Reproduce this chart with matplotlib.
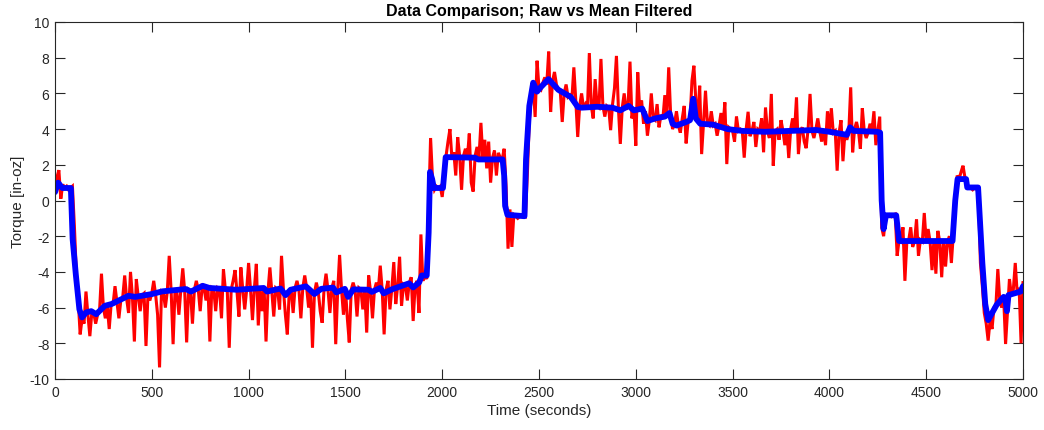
import numpy as np
import matplotlib
matplotlib.use("Agg")
import matplotlib.pyplot as plt

plt.rcParams['font.family'] = ['Liberation Sans', 'DejaVu Sans']

# ---- data ----
raw_step = 10
raw_values = [
    0.5, 1.3, 1.7, 0.1, 0.9, 0.7, 0.8, 0.6, 0.7, 0.8,
    -1.4, -4.0, -5.6, -7.5, -6.6, -6.9, -5.1, -6.4, -7.6, -6.3,
    -6.3, -6.9, -6.4, -6.2, -4.1, -6.0, -6.6, -5.9, -7.2, -5.8,
    -5.8, -4.8, -5.7, -6.6, -5.6, -5.4, -4.2, -5.5, -6.3, -4.0,
    -5.4, -7.9, -4.4, -5.4, -6.2, -5.3, -5.2, -8.15, -5.3, -5.6,
    -5.2, -4.5, -5.3, -6.4, -9.35, -5.1, -5.2, -6.0, -5.1, -3.1,
    -5.1, -8.05, -5.0, -5.2, -6.4, -5.0, -3.8, -5.1, -7.95, -5.0,
    -5.1, -6.9, -5.0, -4.5, -5.0, -6.2, -4.8, -4.9, -5.6, -4.8,
    -7.9, -4.9, -5.0, -6.2, -4.9, -5.0, -6.6, -3.85, -5.0, -5.1,
    -8.25, -5.0, -4.5, -3.9, -5.1, -6.5, -3.75, -5.0, -6.1, -5.0,
    -3.5, -5.0, -6.7, -4.9, -3.55, -7.0, -5.0, -6.2, -4.9, -7.9,
    -5.1, -3.75, -5.1, -6.5, -4.9, -5.0, -6.1, -3.1, -5.0, -6.4,
    -7.5, -5.1, -5.0, -6.3, -4.9, -4.5, -5.0, -6.6, -4.9, -4.2,
    -4.9, -6.0, -5.0, -8.25, -5.2, -4.6, -5.1, -6.2, -6.85, -4.9,
    -4.1, -5.0, -6.3, -4.9, -4.5, -8.05, -5.1, -3.05, -5.0, -6.4,
    -4.9, -6.6, -7.95, -5.0, -4.6, -5.0, -6.5, -4.9, -5.0, -6.1,
    -5.0, -7.4, -4.2, -5.1, -6.6, -5.0, -4.6, -5.0, -3.65, -5.0,
    -7.5, -5.0, -4.5, -6.1, -4.9, -3.45, -5.8, -4.8, -3.15, -5.9,
    -4.7, -4.8, -5.6, -4.6, -4.3, -6.75, -4.8, -4.5, -6.3, -1.9,
    -4.5, -4.2, -4.4, -0.5, 3.5, 1.2, 0.6, 0.8, 0.7, 0.8,
    0.2, 1.2, 2.5, 3.3, 4.0, 2.4, 2.7, 1.4, 3.55, 2.5,
    0.6, 2.5, 2.9, 2.4, 3.75, 1.0, 0.5, 2.5, 3.0, 2.4,
    4.35, 2.4, 3.4, 1.8, 3.3, 1.0, 2.4, 2.8, 1.4, 2.67,
    2.4, 2.3, 2.9, 0.76, -2.7, -0.5, -2.6, -0.8, -0.9, -1.0,
    -0.9, -0.9, -0.85, -0.9, 1.5, 4.5, 5.8, 6.5, 4.68, 7.83,
    6.3, 6.2, 6.6, 6.9, 6.5, 8.34, 4.96, 6.7, 7.2, 6.5,
    6.2, 6.1, 4.4, 6.0, 6.5, 5.8, 5.9, 5.7, 7.46, 5.6,
    3.56, 5.3, 6.0, 5.2, 5.4, 5.1, 8.26, 5.3, 4.6, 6.8,
    5.3, 5.2, 7.93, 5.3, 4.7, 5.3, 5.2, 3.94, 5.4, 6.3,
    8.1, 5.2, 3.17, 5.2, 6.0, 5.1, 5.3, 7.78, 4.6, 5.2,
    3.07, 7.18, 5.1, 5.6, 4.3, 5.0, 3.63, 4.5, 6.0, 4.6,
    4.5, 5.4, 4.1, 4.8, 4.6, 5.9, 4.7, 7.46, 4.8, 4.0,
    4.3, 5.0, 4.2, 3.8, 4.6, 5.3, 3.2, 4.4, 4.5, 6.7,
    7.55, 5.6, 4.6, 6.43, 2.6, 4.4, 6.15, 4.3, 4.2, 5.0,
    4.2, 4.3, 3.63, 4.2, 4.9, 4.1, 5.5, 2.04, 4.1, 4.0,
    3.9, 3.3, 4.7, 3.9, 4.0, 3.9, 2.4, 4.0, 4.97, 3.6,
    3.9, 4.4, 3.0, 4.0, 3.9, 4.6, 2.7, 5.2, 3.9, 3.5,
    5.97, 1.95, 3.9, 4.0, 3.4, 4.5, 3.9, 3.1, 4.0, 2.38,
    4.0, 4.6, 3.9, 5.78, 2.6, 3.9, 4.1, 3.3, 2.93, 4.0,
    5.97, 3.9, 3.5, 4.0, 4.6, 3.9, 3.3, 4.0, 3.1, 5.0,
    3.9, 5.17, 3.8, 3.9, 1.67, 3.8, 4.5, 2.2, 3.8, 3.4,
    3.8, 6.34, 2.7, 4.0, 4.4, 3.9, 2.9, 5.17, 3.9, 3.5,
    3.8, 4.3, 3.9, 5.0, 3.1, 3.9, 4.7, -1.5, -2.0, -1.0,
    -0.9, -0.8, -0.9, -0.8, -0.76, -3.1, -2.2, -2.3, -1.5, -4.5,
    -2.3, -2.2, -1.5, -2.6, -2.3, -1.05, -3.1, -2.2, -2.3, -0.7,
    -2.3, -1.6, -2.3, -3.9, -2.2, -4.1, -1.7, -2.3, -4.3, -2.2,
    -3.7, -2.3, -2.0, -3.5, -1.9, 0.0, 1.4, 1.2, 1.6, 1.95,
    1.3, 0.8, 0.7, 0.7, 0.6, 0.7, 0.7, 0.3, -3.5, -4.8,
    -6.3, -6.9, -7.85, -6.7, -7.2, -6.0, -5.9, -3.84, -5.6, -6.0,
    -5.4, -8.04, -6.2, -4.4, -5.3, -5.0, -3.5, -5.2, -4.9, -8.0,
    -4.6,
]
raw_time = np.arange(len(raw_values)) * raw_step

filt_time = [0, 16, 38, 82, 91, 108, 126, 140, 161, 187, 213, 257, 292, 379, 414,
             501, 554, 676, 702, 763, 798, 938, 1078, 1095, 1165, 1191, 1217, 1296,
             1340, 1375, 1436, 1453, 1497, 1514, 1541, 1619, 1637, 1680, 1698, 1742,
             1829, 1850, 1881, 1895, 1920, 1930, 1937, 1948, 1957, 2004, 2018, 2170,
             2185, 2312, 2320, 2325, 2337, 2425, 2433, 2450, 2470, 2490, 2505, 2549,
             2600, 2664, 2700, 2720, 2800, 2880, 2920, 2963, 2990, 3033, 3060, 3100,
             3150, 3174, 3190, 3210, 3260, 3280, 3297, 3310, 3333, 3400, 3474, 3550,
             3667, 3800, 3931, 4000, 4090, 4107, 4125, 4248, 4262, 4270, 4280, 4292,
             4345, 4360, 4636, 4650, 4662, 4706, 4712, 4768, 4790, 4805, 4820, 4864,
             4900, 4910, 4917, 4925, 4988, 5000]
filt_values = [0.47, 1.0, 0.7, 0.7, -2.15, -4.2, -6.1, -6.55, -6.27, -6.2, -6.37, -5.9,
               -5.8, -5.34, -5.4, -5.24, -5.09, -4.96, -5.1, -4.78, -4.9, -5.0, -4.9,
               -5.1, -4.93, -5.3, -5.0, -4.81, -5.24, -4.95, -4.88, -5.15, -4.95, -5.4,
               -4.98, -5.0, -5.12, -4.9, -5.2, -4.97, -4.64, -4.87, -4.59, -4.2, -4.2,
               -1.8, 1.6, 1.2, 0.7, 0.7, 2.43, 2.4, 2.3, 2.3, 1.4, -0.3, -0.8, -0.88,
               2.3, 5.3, 6.6, 6.1, 6.3, 6.8, 6.2, 5.8, 5.24, 5.2, 5.25, 5.2, 5.05, 5.3,
               5.05, 5.15, 4.45, 4.6, 4.7, 4.9, 4.3, 4.2, 4.4, 4.5, 5.7, 4.6, 4.3, 4.25,
               4.0, 3.9, 3.85, 3.9, 3.95, 3.85, 3.68, 4.1, 3.9, 3.85, 3.8, 0.0, -1.6,
               -0.83, -0.83, -2.27, -2.27, 0.0, 1.2, 1.2, 0.73, 0.73, -3.5, -5.8, -6.7,
               -5.84, -5.4, -5.6, -6.2, -5.3, -5.1, -4.8]

x_ticks = list(range(0, 5001, 500))
y_ticks = list(range(-10, 11, 2))
title = "Data Comparison; Raw vs Mean Filtered"
xlabel = "Time (seconds)"
ylabel = "Torque [in-oz]"

# ---- figure ----
W, H = 1044, 431
fig = plt.figure(figsize=(W / 100, H / 100), dpi=100)
ax = fig.add_axes([55 / W, 51 / H, 968 / W, 357 / H])

ax.plot(raw_time, raw_values, color=(1, 0, 0), lw=2.2, solid_joinstyle='miter')
ax.plot(filt_time, filt_values, color=(0, 0, 1), lw=4.2, solid_joinstyle='round',
        solid_capstyle='round')

ax.set_xlim(0, 5000)
ax.set_ylim(-10, 10)
ax.set_xticks(x_ticks)
ax.set_yticks(y_ticks)
ax.set_xticklabels([str(v) for v in x_ticks])
ax.set_yticklabels([str(v) for v in y_ticks])

gray = (0.15, 0.15, 0.15)
for s in ax.spines.values():
    s.set_color(gray)
    s.set_linewidth(0.8)
ax.tick_params(direction='in', length=7, width=0.8, color=gray, labelcolor=gray,
               labelsize=10, top=True, right=True, pad=4)

ax.set_title(title, fontsize=11.5, fontweight='bold', color='black', pad=5)
ax.set_xlabel(xlabel, fontsize=11, color=gray, labelpad=3)
ax.set_ylabel(ylabel, fontsize=11, color=gray, labelpad=3)

fig.savefig("out.png", dpi=100)
